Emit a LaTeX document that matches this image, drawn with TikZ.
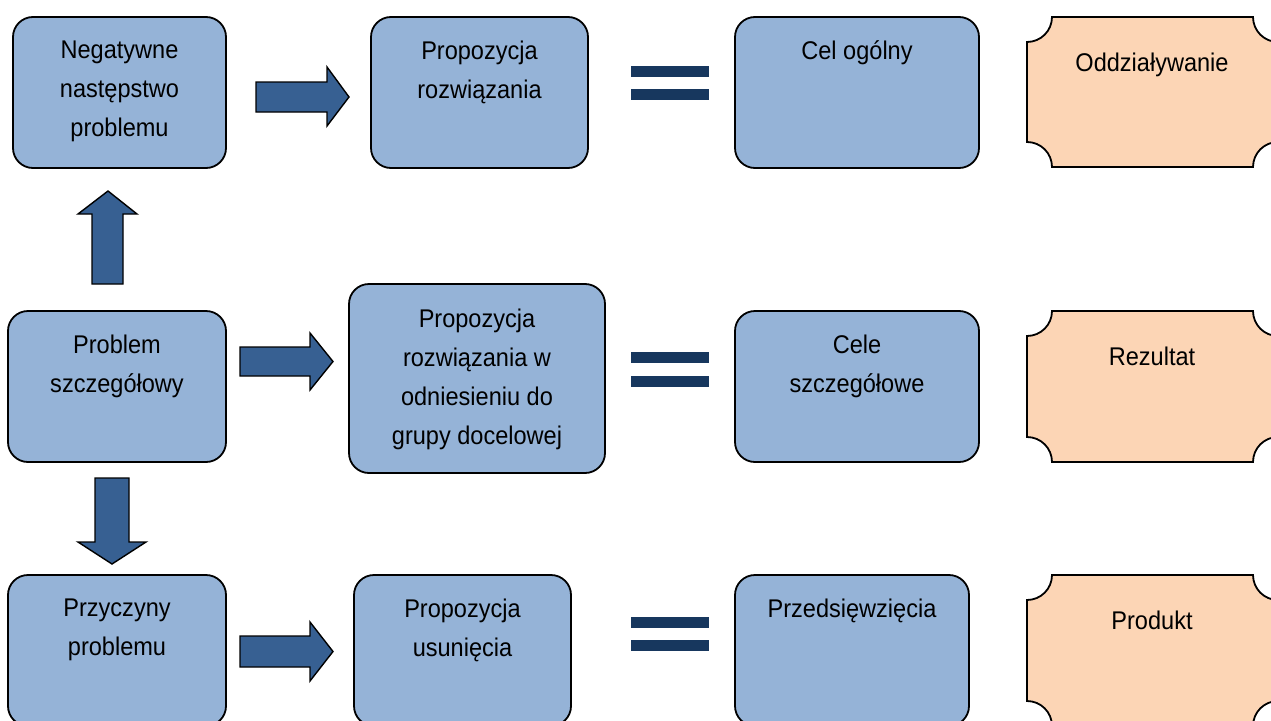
\documentclass[tikz,border=0pt]{standalone}
\usepackage{fontspec}
\setmainfont{Liberation Sans}[FakeStretch=0.92]
\begin{document}
\begin{tikzpicture}[x=1pt,y=-1pt,
  bluebox/.style={draw=black, line width=1.8pt, fill=boxblue, rounded corners=20pt, inner sep=0pt},
  txt/.style={anchor=north, inner sep=0pt, align=center, font=\fontsize{25.6}{39}\selectfont, text=black},
  blockarrow/.style={draw=black, line width=1.4pt, fill=arrowblue, line join=miter},
  eqbar/.style={fill=eqblue},
  orange/.style={draw=black, line width=1.8pt, fill=boxorange}
]
\definecolor{boxblue}{HTML}{95B3D7}
\definecolor{arrowblue}{HTML}{376092}
\definecolor{eqblue}{HTML}{17375E}
\definecolor{boxorange}{HTML}{FCD5B5}
\useasboundingbox (0,0) rectangle (1271,720);
\clip (0,0) rectangle (1271,720);

% blue boxes
\node[bluebox, minimum width=213pt, minimum height=151pt] (A) at (119.5,92.5) {};
\node[bluebox, minimum width=217pt, minimum height=151pt] (B) at (479.5,92.5) {};
\node[bluebox, minimum width=244pt, minimum height=151pt] (C) at (857,92.5) {};
\node[bluebox, minimum width=218pt, minimum height=151pt] (D) at (117,386.5) {};
\node[bluebox, minimum width=256pt, minimum height=189pt] (E) at (477,378.5) {};
\node[bluebox, minimum width=244pt, minimum height=151pt] (F) at (857,386.5) {};
\node[bluebox, minimum width=218pt, minimum height=151pt] (G) at (117,650.5) {};
\node[bluebox, minimum width=217pt, minimum height=151pt] (H) at (462.5,650.5) {};
\node[bluebox, minimum width=234pt, minimum height=151pt] (I) at (852,650.5) {};

% texts
\node[txt] (tA) at ([yshift=-24.5pt]A.north) {Negatywne\\następstwo\\problemu};
\node[txt] (tB) at ([yshift=-24.5pt]B.north) {Propozycja\\rozwiązania};
\node[txt] (tC) at ([yshift=-24.5pt]C.north) {Cel ogólny};
\node[txt] (tD) at ([yshift=-24.5pt]D.north) {Problem\\szczegółowy};
\node[txt] (tE) at ([yshift=-25.5pt]E.north) {Propozycja\\rozwiązania w\\odniesieniu do\\grupy docelowej};
\node[txt] (tF) at ([yshift=-24.5pt]F.north) {Cele\\szczegółowe};
\node[txt] (tG) at ([yshift=-24.5pt]G.north) {Przyczyny\\problemu};
\node[txt] (tH) at ([yshift=-24.5pt]H.north) {Propozycja\\usunięcia};
\node[txt] (tI) at ([yshift=-24.5pt]I.north) {Przedsięwzięcia};

% orange concave-corner boxes
\foreach \ya/\yb/\nm/\lab in {17/167/O1/Oddziaływanie, 311/462/O2/Rezultat, 575/726/O3/Produkt}{
  \draw[orange] (1052,\ya) -- (1253,\ya) arc[start angle=180, end angle=90, radius=25]
    -- (1278,\yb-25) arc[start angle=270, end angle=180, radius=25]
    -- (1052,\yb) arc[start angle=360, end angle=270, radius=25]
    -- (1027,\ya+25) arc[start angle=90, end angle=0, radius=25] -- cycle;
  \node[txt] (\nm) at (1152,\ya+35.5) {\lab};
}

% right block arrows
\draw[blockarrow] (256,82) -- (327,82) -- (327,67) -- (349,97) -- (327,126) -- (327,112) -- (256,112) -- cycle;
\draw[blockarrow] (240,347) -- (310,347) -- (310,333) -- (333,361.5) -- (310,390) -- (310,376) -- (240,376) -- cycle;
\draw[blockarrow] (240,636) -- (310,636) -- (310,622) -- (333,651.5) -- (310,681) -- (310,667) -- (240,667) -- cycle;

% up arrow
\draw[blockarrow] (92,284) -- (92,214) -- (78,214) -- (108,191) -- (137,214) -- (123,214) -- (123,284) -- cycle;
% down arrow
\draw[blockarrow] (95,478) -- (129,478) -- (129,542) -- (146,542) -- (112,564) -- (78,542) -- (95,542) -- cycle;

% equals signs
\foreach \ya/\yb in {66/89, 352/376, 617/640}{
  \fill[eqblue] (631,\ya) rectangle (709,\ya+11);
  \fill[eqblue] (631,\yb) rectangle (709,\yb+11);
}
\end{tikzpicture}
\end{document}
